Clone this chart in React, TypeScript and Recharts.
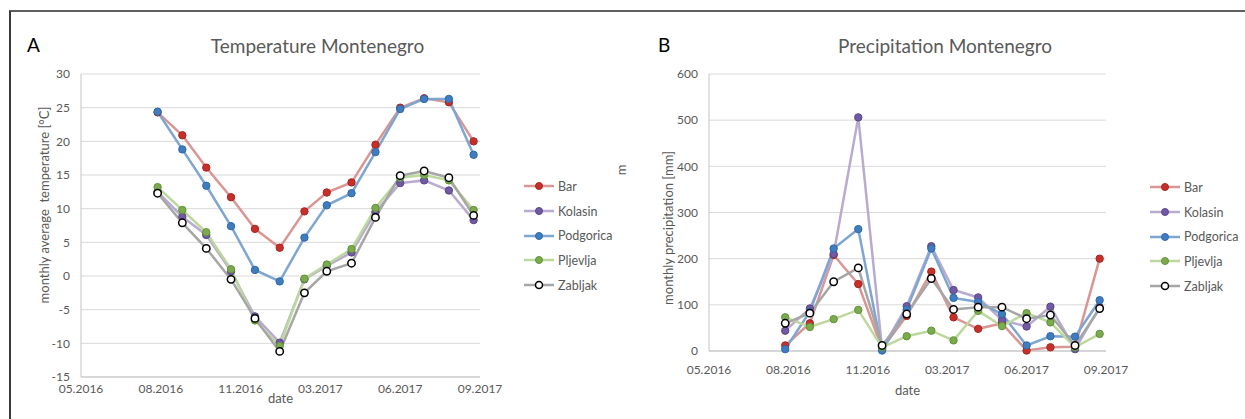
import { LineChart, Line, XAxis, YAxis, CartesianGrid, Legend, Label } from "recharts";

// monthly observations, mid-month
const months = [
  "2016-08-15", "2016-09-15", "2016-10-15", "2016-11-15", "2016-12-15",
  "2017-01-15", "2017-02-15", "2017-03-15", "2017-04-15", "2017-05-15",
  "2017-06-15", "2017-07-15", "2017-08-15", "2017-09-15",
];

// date axis: 100-day major unit
const dateTicks = ["2016-05-11", "2016-08-19", "2016-11-27", "2017-03-07", "2017-06-15", "2017-09-23"];

const tempTicks = [-15, -10, -5, 0, 5, 10, 15, 20, 25, 30];
const precTicks = [0, 100, 200, 300, 400, 500, 600];

// mean monthly temperature [°C]
const tempBar = [24.3, 20.9, 16.1, 11.7, 7.0, 4.2, 9.6, 12.4, 13.9, 19.5, 25.0, 26.4, 25.8, 20.0];
const tempKolasin = [12.5, 8.8, 6.1, 0.7, -6.0, -9.9, -0.5, 1.5, 3.5, 9.5, 13.8, 14.2, 12.7, 8.3];
const tempPodgorica = [24.4, 18.8, 13.4, 7.4, 0.9, -0.8, 5.7, 10.5, 12.3, 18.4, 24.8, 26.3, 26.3, 18.0];
const tempPljevlja = [13.2, 9.8, 6.5, 1.0, -6.6, -10.4, -0.4, 1.7, 4.0, 10.1, 14.6, 15.0, 14.2, 9.8];
const tempZabljak = [12.3, 7.9, 4.1, -0.5, -6.3, -11.2, -2.5, 0.7, 1.9, 8.7, 14.9, 15.6, 14.6, 9.0];

// monthly precipitation [mm]
const precBar = [12, 60, 208, 145, 5, 76, 172, 73, 48, 60, 1, 8, 9, 200];
const precKolasin = [44, 92, 210, 506, 4, 97, 227, 132, 116, 67, 53, 96, 4, 95];
const precPodgorica = [4, 85, 222, 264, 1, 90, 222, 115, 106, 80, 12, 32, 31, 110];
const precPljevlja = [73, 52, 69, 89, 8, 32, 44, 23, 87, 54, 82, 62, 8, 37];
const precZabljak = [60, 82, 150, 180, 12, 80, 157, 90, 95, 95, 70, 78, 12, 92];

const stations = [
  { key: "bar", name: "Bar", line: "#d99694", fill: "#c7302a", edge: "#a52620" },
  { key: "kolasin", name: "Kolasin", line: "#b9abd0", fill: "#7159a3", edge: "#5b4688" },
  { key: "podgorica", name: "Podgorica", line: "#7ea6d3", fill: "#3f7dc0", edge: "#2f68a6" },
  { key: "pljevlja", name: "Pljevlja", line: "#bcd89c", fill: "#7aab4d", edge: "#62913a" },
  { key: "zabljak", name: "Zabljak", line: "#a6a6a6", fill: "#ffffff", edge: "#000000" },
];

const toDay = (s: string) =>
  Date.UTC(+s.slice(0, 4), +s.slice(5, 7) - 1, +s.slice(8, 10)) / 86400000;

const fmtDay = (d: number) => {
  const dt = new Date(d * 86400000);
  return String(dt.getUTCMonth() + 1).padStart(2, "0") + "." + dt.getUTCFullYear();
};

const xTicks = dateTicks.map(toDay);

const buildRows = (cols: number[][]) =>
  months.map((m, i) => {
    const row: Record<string, number> = { t: toDay(m) };
    stations.forEach((s, j) => (row[s.key] = cols[j][i]));
    return row;
  });

const tempData = buildRows([tempBar, tempKolasin, tempPodgorica, tempPljevlja, tempZabljak]);
const precData = buildRows([precBar, precKolasin, precPodgorica, precPljevlja, precZabljak]);

const TEXT = "#595959";
const GRID = "#d9d9d9";
const AXIS = "#c4c4c4";

const StationLegend = () => (
  <div>
    {stations.map((s) => (
      <div key={s.key} style={{ display: "flex", alignItems: "center", height: 24.7 }}>
        <svg width={30} height={10}>
          <line x1={0} y1={5} x2={30} y2={5} stroke={s.line} strokeWidth={2.5} />
          <circle cx={15} cy={5} r={3.5} fill={s.fill} stroke={s.edge} strokeWidth={s.key === "zabljak" ? 1.5 : 1} />
        </svg>
        <span style={{ marginLeft: 4, fontSize: 12.5, color: TEXT }}>{s.name}</span>
      </div>
    ))}
  </div>
);

const stationLines = () =>
  stations.map((s) => (
    <Line
      key={s.key}
      dataKey={s.key}
      name={s.name}
      type="linear"
      stroke={s.line}
      strokeWidth={2.5}
      dot={{ r: 3.7, fill: s.fill, stroke: s.edge, strokeWidth: s.key === "zabljak" ? 1.5 : 1 }}
      activeDot={false}
      isAnimationActive={false}
    />
  ));

const abs = (left: number, top: number, extra: React.CSSProperties = {}): React.CSSProperties => ({
  position: "absolute",
  left,
  top,
  whiteSpace: "pre",
  ...extra,
});

const vertical = (cx: number, cy: number, text: string) => (
  <div
    style={abs(cx, cy, {
      transform: "translate(-50%, -50%) rotate(-90deg)",
      fontSize: 13,
      color: TEXT,
    })}
  >
    {text}
  </div>
);

export default function App() {
  return (
    <div
      style={{
        position: "absolute",
        left: 0,
        top: 0,
        width: 1245,
        height: 419,
        overflow: "hidden",
        background: "#fff",
        fontFamily: "Lato, 'Open Sans', sans-serif",
      }}
    >
      <div
        style={abs(9, 10, {
          width: 1240,
          height: 420,
          borderTop: "2px solid #5f5f5f",
          borderLeft: "2px solid #3a3a3a",
        })}
      />

      {/* A: temperature */}
      <div style={abs(0, 0)}>
        <LineChart width={620} height={419} data={tempData} margin={{ top: 74, right: 140, bottom: 12, left: 0 }}>
          <CartesianGrid vertical={false} stroke={GRID} />
          <XAxis
            dataKey="t"
            type="number"
            domain={[xTicks[0], xTicks[xTicks.length - 1]]}
            ticks={xTicks}
            interval={0}
            tickFormatter={fmtDay}
            tick={{ fontSize: 12, fill: TEXT }}
            tickLine={false}
            tickMargin={1}
            axisLine={{ stroke: AXIS }}
            height={30}
          >
            <Label value="date" position="insideTop" offset={17} fontSize={13} fill={TEXT} />
          </XAxis>
          <YAxis
            type="number"
            domain={[-15, 30]}
            ticks={tempTicks}
            interval={0}
            width={81}
            tick={{ fontSize: 12, fill: TEXT }}
            tickLine={false}
            tickMargin={5}
            axisLine={{ stroke: AXIS }}
          />
          <Legend
            layout="horizontal"
            verticalAlign="middle"
            align="center"
            content={<StationLegend />}
            wrapperStyle={{ left: 524, top: 174, width: 100, height: 125 }}
          />
          {stationLines()}
        </LineChart>
      </div>

      {/* B: precipitation */}
      <div style={abs(620, 0)}>
        <LineChart width={625} height={419} data={precData} margin={{ top: 74, right: 139, bottom: 38, left: 0 }}>
          <CartesianGrid vertical={false} stroke={GRID} />
          <XAxis
            dataKey="t"
            type="number"
            domain={[xTicks[0], xTicks[xTicks.length - 1]]}
            ticks={xTicks}
            interval={0}
            tickFormatter={fmtDay}
            tick={{ fontSize: 12, fill: TEXT }}
            tickLine={false}
            tickMargin={8}
            axisLine={{ stroke: "#bfbfbf" }}
            height={30}
          >
            <Label value="date" position="insideTop" offset={35} fontSize={13} fill={TEXT} />
          </XAxis>
          <YAxis
            type="number"
            domain={[0, 600]}
            ticks={precTicks}
            interval={0}
            width={89}
            tick={{ fontSize: 12, fill: TEXT }}
            tickLine={false}
            tickMargin={5}
            axisLine={{ stroke: AXIS }}
          />
          <Legend
            layout="horizontal"
            verticalAlign="middle"
            align="center"
            content={<StationLegend />}
            wrapperStyle={{ left: 530, top: 175, width: 100, height: 125 }}
          />
          {stationLines()}
        </LineChart>
      </div>

      <div style={abs(27, 33, { fontSize: 19, color: "#000" })}>A</div>
      <div style={abs(658, 33, { fontSize: 19, color: "#000" })}>B</div>
      <div style={abs(317.5, 45, { transform: "translate(-50%, -50%)", fontSize: 19, color: TEXT })}>
        Temperature Montenegro
      </div>
      <div style={abs(945, 45, { transform: "translate(-50%, -50%)", fontSize: 19, color: TEXT })}>
        Precipitation Montenegro
      </div>
      {vertical(44, 205, "monthly average  temperature [°C]")}
      {vertical(668, 228, "monthly precipitation [mm]")}
      {vertical(621, 170, "m")}
    </div>
  );
}
